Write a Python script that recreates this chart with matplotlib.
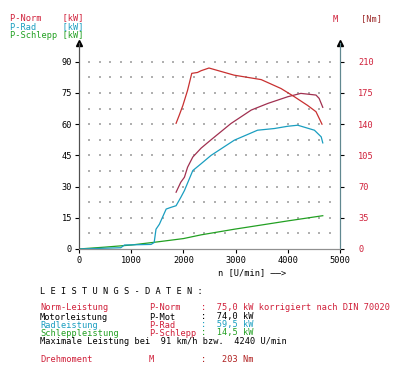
import numpy as np
import matplotlib
matplotlib.use("Agg")
import matplotlib.pyplot as plt

plt.rcParams['font.family'] = ['DejaVu Sans Mono']

# curve data
rpm_norm = [1860, 1950, 2020, 2080, 2180, 2340, 2530, 2910, 3300, 3620, 4000, 4250, 4540, 4600, 4670]
p_norm = [27.3, 32.1, 34.5, 39.3, 44.2, 48.5, 52.5, 60.3, 66.8, 70.0, 73.2, 74.8, 74.0, 72.4, 68.1]

rpm_m = [1860, 1920, 1990, 2080, 2160, 2270, 2340, 2490, 2970, 3490, 3870, 4120, 4380, 4540, 4655]
m_nm = [141, 150, 161, 178, 197, 198, 200, 203, 195, 190, 180, 171, 161, 154, 140]

rpm_rad = [0, 400, 800, 870, 1380, 1440, 1475, 1540, 1670, 1760, 1860, 1950, 2020, 2180, 2340,
           2530, 2975, 3420, 3740, 4000, 4190, 4510, 4640, 4670]
p_rad = [0, 0.3, 0.6, 1.9, 2.2, 3.1, 9.5, 11.9, 19.2, 20.0, 20.8, 24.8, 28.1, 37.7, 41.0,
         45.0, 52.3, 57.1, 57.9, 59.0, 59.5, 57.1, 53.9, 51.0]

rpm_s = [0, 500, 1000, 1500, 2000, 2340, 2975, 3615, 4000, 4670]
p_s = [0, 0.9, 1.9, 3.4, 5.0, 6.8, 9.5, 12.0, 13.5, 16.0]

x_ticks = [0, 1000, 2000, 3000, 4000, 5000]
kw_ticks = [0, 15, 30, 45, 60, 75, 90]
nm_ticks = [0, 35, 70, 105, 140, 175, 210]

RED = '#d0203a'
TEAL = '#1a9ec0'
GREEN = '#22a022'
FS = 6.2

fig = plt.figure(figsize=(4, 3.81), dpi=100)
ax = fig.add_axes([0.1975, 0.3465, 0.6525, 0.5405])
ax.set_xlim(0, 5000)
ax.set_ylim(0, 99)

# dotted grid
gx, gy = np.meshgrid(np.arange(200, 4801, 200), np.arange(7.5, 90.1, 7.5))
ax.scatter(gx.ravel(), gy.ravel(), s=0.6, color='#b0b0b0', marker='s', linewidths=0)

ax.plot(rpm_s, p_s, color=GREEN, lw=0.9)
ax.plot(rpm_rad, p_rad, color=TEAL, lw=0.9)
ax.plot(rpm_norm, p_norm, color='#a03050', lw=0.9)

ax2 = ax.twinx()
ax2.set_ylim(0, 99 * 210 / 90)
ax2.plot(rpm_m, m_nm, color='#c83030', lw=0.9)

for a in (ax, ax2):
    a.spines['top'].set_visible(False)
    a.spines['left'].set_color('#505050')
    a.spines['right'].set_color('#608890')
    a.spines['bottom'].set_color('#909090')

ax.set_xticks(x_ticks)
ax.set_xticklabels([str(v) for v in x_ticks], fontsize=FS)
ax.set_yticks(kw_ticks)
ax.set_yticklabels([str(v) for v in kw_ticks], fontsize=FS)
ax2.set_yticks(nm_ticks)
ax2.set_yticklabels([str(v) for v in nm_ticks], fontsize=FS, color=RED)
ax.tick_params(length=3, width=0.8, pad=2)
ax2.tick_params(length=3, width=0.8, pad=10)

# arrow heads on the axes
ax.plot([0, 5000], [99, 99], '^', color='black', ms=4, clip_on=False)

# header labels
fig.text(10 / 400, 1 - 18 / 381, 'P-Norm    [kW]', color=RED, fontsize=FS, va='center')
fig.text(10 / 400, 1 - 27 / 381, 'P-Rad     [kW]', color=TEAL, fontsize=FS, va='center')
fig.text(10 / 400, 1 - 36 / 381, 'P-Schlepp [kW]', color=GREEN, fontsize=FS, va='center')
fig.text(333 / 400, 1 - 19 / 381, 'M', color=RED, fontsize=FS, va='center')
fig.text(361 / 400, 1 - 19 / 381, '[Nm]', color='#a03030', fontsize=FS, va='center')

fig.text(218 / 400, 1 - 273 / 381, 'n [U/min] ——>', color='black', fontsize=FS, va='center')
fig.text(40 / 400, 1 - 291 / 381, 'L E I S T U N G S - D A T E N :', color='black',
         fontsize=FS, va='center')

# data table
rows = [
    (308, 'Norm-Leistung', RED, 'P-Norm', RED, ':  75,0 kW korrigiert nach DIN 70020', RED),
    (317, 'Motorleistung', 'black', 'P-Mot', 'black', ':  74,0 kW', 'black'),
    (325, 'Radleistung', TEAL, 'P-Rad', RED, ':  59,5 kW', TEAL),
    (333, 'Schleppleistung', GREEN, 'P-Schlepp', RED, ':  14,5 kW', GREEN),
    (360, 'Drehmoment', RED, 'M', RED, ':   203 Nm', '#b02020'),
]
for y, c1, col1, c2, col2, c3, col3 in rows:
    fig.text(40 / 400, 1 - y / 381, c1, color=col1, fontsize=FS, va='center')
    fig.text(149 / 400, 1 - y / 381, c2, color=col2, fontsize=FS, va='center')
    fig.text(201 / 400, 1 - y / 381, c3, color=col3, fontsize=FS, va='center')
fig.text(40 / 400, 1 - 342 / 381, 'Maximale Leistung bei  91 km/h bzw.  4240 U/min',
         color='black', fontsize=FS, va='center')

fig.savefig('out.png', dpi=100)
